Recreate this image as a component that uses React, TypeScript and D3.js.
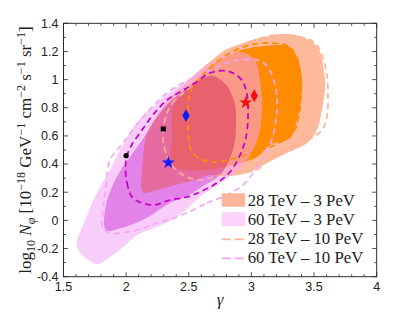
import React from 'react';
import * as d3 from 'd3';

type Pt = [number, number];

// axis ticks
const xTicks = [1.5, 2, 2.5, 3, 3.5, 4];
const xTickLabels = ['1.5', '2', '2.5', '3', '3.5', '4'];
const yTicks = [-0.4, -0.2, 0, 0.2, 0.4, 0.6, 0.8, 1, 1.2, 1.4];
const yTickLabels = ['-0.4', '-0.2', '0', '0.2', '0.4', '0.6', '0.8', '1', '1.2', '1.4'];

// filled regions (gamma, log10 N)
const outer28: Pt[] = [[2.135,0.202],[2.135,0.429],[2.174,0.642],[2.278,0.784],[2.366,0.891],[2.47,0.969],[2.59,1.068],[2.685,1.139],[2.789,1.21],[2.909,1.253],[3.068,1.296],[3.268,1.324],[3.428,1.296],[3.531,1.225],[3.579,1.068],[3.587,0.926],[3.563,0.784],[3.523,0.642],[3.444,0.55],[3.284,0.479],[3.124,0.408],[2.989,0.344],[2.829,0.315],[2.669,0.322],[2.55,0.287],[2.39,0.251],[2.246,0.216]];
const inner28: Pt[] = [[2.366,0.393],[2.366,0.592],[2.374,0.798],[2.454,0.905],[2.59,1.033],[2.709,1.118],[2.829,1.175],[2.949,1.217],[3.108,1.239],[3.308,1.232],[3.372,1.139],[3.404,0.997],[3.396,0.855],[3.364,0.713],[3.308,0.585],[3.148,0.536],[3.045,0.45],[2.909,0.408],[2.749,0.372],[2.59,0.358],[2.47,0.358]];
const outer60: Pt[] = [[1.608,-0.189],[1.672,0.003],[1.767,0.195],[1.871,0.358],[1.951,0.5],[2.087,0.699],[2.246,0.834],[2.374,0.926],[2.51,1.011],[2.614,1.082],[2.749,1.154],[2.909,1.196],[3.029,1.139],[3.068,0.997],[3.084,0.82],[3.068,0.642],[3.005,0.486],[2.909,0.372],[2.789,0.287],[2.669,0.216],[2.59,0.166],[2.406,0.024],[2.246,-0.047],[2.087,-0.104],[1.967,-0.196],[1.839,-0.281],[1.775,-0.31],[1.735,-0.303]];
const inner60: Pt[] = [[1.839,-0.068],[1.839,0.109],[1.887,0.237],[1.967,0.372],[2.071,0.5],[2.166,0.621],[2.246,0.734],[2.35,0.841],[2.47,0.926],[2.59,0.997],[2.693,1.026],[2.805,0.955],[2.869,0.82],[2.877,0.678],[2.869,0.571],[2.829,0.443],[2.749,0.322],[2.629,0.251],[2.486,0.173],[2.35,0.124],[2.19,0.031],[2.095,-0.011],[1.967,-0.054]];

// dashed contours (10 PeV)
const outer28d: Pt[] = [[2.486,0.926],[2.39,0.855],[2.326,0.763],[2.294,0.621],[2.31,0.5],[2.374,0.379],[2.486,0.308],[2.59,0.287],[2.725,0.315],[2.853,0.344],[3.045,0.358],[3.148,0.443],[3.308,0.514],[3.452,0.571],[3.563,0.642],[3.603,0.734],[3.611,0.876],[3.603,1.033],[3.563,1.175],[3.508,1.26],[3.388,1.303],[3.204,1.317],[3.084,1.296],[2.949,1.253],[2.789,1.182],[2.629,1.068]];
const inner28d: Pt[] = [[2.51,0.905],[2.494,0.678],[2.518,0.5],[2.574,0.443],[2.709,0.415],[2.869,0.443],[3.029,0.486],[3.188,0.536],[3.332,0.621],[3.38,0.749],[3.396,0.962],[3.364,1.154],[3.292,1.239],[3.148,1.26],[2.989,1.246],[2.829,1.189],[2.685,1.097],[2.574,0.997]];
const outer60d: Pt[] = [[2.534,0.074],[2.645,0.124],[2.749,0.159],[2.933,0.251],[3.053,0.393],[3.148,0.536],[3.196,0.713],[3.204,0.876],[3.172,1.011],[3.124,1.097],[3.045,1.139],[2.853,1.132],[2.709,1.082],[2.59,1.033],[2.454,0.976],[2.326,0.905],[2.135,0.734],[1.975,0.55],[1.871,0.429],[1.839,0.237],[1.815,0.074],[1.815,-0.054],[1.871,-0.09],[2.087,-0.068],[2.246,-0.019],[2.406,0.024]];
const inner60d: Pt[] = [[1.999,0.429],[2.007,0.266],[2.055,0.159],[2.214,0.109],[2.35,0.145],[2.486,0.166],[2.59,0.202],[2.725,0.266],[2.829,0.344],[2.909,0.464],[2.957,0.592],[2.973,0.763],[2.957,0.926],[2.909,1.011],[2.805,1.061],[2.669,1.047],[2.55,0.976],[2.43,0.912],[2.326,0.855],[2.214,0.749],[2.127,0.642],[2.039,0.528]];

// best-fit points
const markers = [
  { g: 2.0, n: 0.46, shape: 'circle', color: '#000' },
  { g: 2.297, n: 0.649, shape: 'square', color: '#000' },
  { g: 2.337, n: 0.41, shape: 'star', color: '#0a1aff' },
  { g: 2.478, n: 0.744, shape: 'diamond', color: '#0a1aff' },
  { g: 2.954, n: 0.836, shape: 'star', color: '#f01010' },
  { g: 3.023, n: 0.886, shape: 'diamond', color: '#f01010' },
];

const legendLabels = ['28 TeV \u2013 3 PeV', '60 TeV \u2013 3 PeV', '28 TeV \u2013 10 PeV', '60 TeV \u2013 10 PeV'];

const x = d3.scaleLinear().domain([1.5, 4]).range([63.5, 376.7]);
const y = d3.scaleLinear().domain([-0.4, 1.4]).range([276.7, 23.3]);

const area = d3.line<Pt>().x(d => x(d[0])).y(d => y(d[1])).curve(d3.curveCatmullRomClosed.alpha(0.5));

const symbolPath = (shape: string) => {
  if (shape === 'circle') return d3.symbol(d3.symbolCircle, 22)();
  if (shape === 'square') return d3.symbol(d3.symbolSquare, 26)();
  if (shape === 'star') return d3.symbol(d3.symbolStar, 52)();
  return d3.symbol(d3.symbolDiamond, 46)();
};

const sans = 'Liberation Sans, Arial, sans-serif';
const serif = 'Liberation Serif, Times New Roman, serif';

export default function App() {
  const minorX = d3.range(15, 41).map(i => i / 10);
  const minorY = d3.range(-4, 15).map(i => i / 10);
  const [x0, x1] = x.range();
  const [y0, y1] = y.range();
  const frame = '#2a2a2a';

  return (
    <svg width={415} height={324} style={{ position: 'absolute', left: 0, top: 0, background: '#fff' }}>
      <defs>
        <clipPath id="plot"><rect x={x0} y={y1} width={x1 - x0} height={y0 - y1} /></clipPath>
        <clipPath id="c28o"><path d={area(outer28) || ''} /></clipPath>
        <clipPath id="c28i"><path d={area(inner28) || ''} /></clipPath>
      </defs>

      <g clipPath="url(#plot)">
        <path d={area(outer28) || ''} fill="#fdb99b" />
        <path d={area(inner28) || ''} fill="#ff8c00" />
        <path d={area(outer60) || ''} fill="#f4a4f4" fillOpacity={0.55} />
        <path d={area(inner60) || ''} fill="#c828d2" fillOpacity={0.45} />
        <g clipPath="url(#c28o)">
          <path d={area(inner60) || ''} fill="#f05a14" fillOpacity={0.25} />
        </g>
        <g clipPath="url(#c28i)">
          <path d={area(inner60) || ''} fill="#f05a14" fillOpacity={0.18} />
        </g>

        <path d={area(outer28d) || ''} fill="none" stroke="#fdb296" strokeWidth={1.7} strokeDasharray="6 4" />
        <path d={area(inner28d) || ''} fill="none" stroke="#ff8c00" strokeWidth={1.7} strokeDasharray="6 4" />
        <path d={area(outer60d) || ''} fill="none" stroke="#f4a6f4" strokeWidth={1.7} strokeDasharray="6 4" />
        <path d={area(inner60d) || ''} fill="none" stroke="#bf00c8" strokeWidth={1.7} strokeDasharray="6 4" />

        {markers.map((m, i) => (
          <path key={i} d={symbolPath(m.shape) || ''} transform={`translate(${x(m.g)},${y(m.n)})`} fill={m.color} />
        ))}
      </g>

      {/* frame and ticks */}
      <rect x={x0} y={y1} width={x1 - x0} height={y0 - y1} fill="none" stroke={frame} strokeWidth={1} />
      {minorX.map((v, i) => {
        const len = i % 5 === 0 ? 4.5 : 2.5;
        return (
          <g key={'xt' + i} stroke={frame} strokeWidth={0.8}>
            <line x1={x(v)} x2={x(v)} y1={y0} y2={y0 - len} />
            <line x1={x(v)} x2={x(v)} y1={y1} y2={y1 + len} />
          </g>
        );
      })}
      {minorY.map((v, i) => {
        const len = i % 2 === 0 ? 4.5 : 2.5;
        return (
          <g key={'yt' + i} stroke={frame} strokeWidth={0.8}>
            <line x1={x0} x2={x0 + len} y1={y(v)} y2={y(v)} />
            <line x1={x1} x2={x1 - len} y1={y(v)} y2={y(v)} />
          </g>
        );
      })}
      {xTicks.map((v, i) => (
        <text key={'xl' + i} x={x(v)} y={291} textAnchor="middle" fontFamily={sans} fontSize={12.5} fill="#222">{xTickLabels[i]}</text>
      ))}
      {yTicks.map((v, i) => (
        <text key={'yl' + i} x={58.5} y={y(v) + 4.4} textAnchor="end" fontFamily={sans} fontSize={12.5} fill="#222">{yTickLabels[i]}</text>
      ))}

      {/* axis labels */}
      <text x={220} y={305} fontFamily={serif} fontStyle="italic" fontSize={17} textAnchor="middle" fill="#222">γ</text>
      <text transform="translate(31,150) rotate(-90)" fontFamily={serif} fontSize={17} textAnchor="middle" fill="#222">
        <tspan>log</tspan>
        <tspan fontSize={12} baselineShift="-4">10</tspan>
        <tspan> </tspan>
        <tspan fontStyle="italic">N</tspan>
        <tspan fontSize={12} fontStyle="italic" baselineShift="-4">φ</tspan>
        <tspan> [10</tspan>
        <tspan fontSize={12} baselineShift="6">−18</tspan>
        <tspan> GeV</tspan>
        <tspan fontSize={12} baselineShift="6">−1</tspan>
        <tspan> cm</tspan>
        <tspan fontSize={12} baselineShift="6">−2</tspan>
        <tspan> s</tspan>
        <tspan fontSize={12} baselineShift="6">−1</tspan>
        <tspan> sr</tspan>
        <tspan fontSize={12} baselineShift="6">−1</tspan>
        <tspan>]</tspan>
      </text>

      {/* legend */}
      <rect x={221.7} y={193.3} width={23.3} height={13.4} fill="#fdb49a" />
      <rect x={221.7} y={212.3} width={23.3} height={13.7} fill="#fcd2fc" />
      <line x1={221.7} x2={245} y1={239.3} y2={239.3} stroke="#fdb296" strokeWidth={1.7} strokeDasharray="9 4" />
      <line x1={221.7} x2={245} y1={258.3} y2={258.3} stroke="#f4a6f4" strokeWidth={1.7} strokeDasharray="9 4" />
      {legendLabels.map((t, i) => (
        <text key={'lg' + i} x={247.7} y={205.5 + i * 19} fontFamily={serif} fontSize={16.8} fill="#222">{t}</text>
      ))}
    </svg>
  );
}
